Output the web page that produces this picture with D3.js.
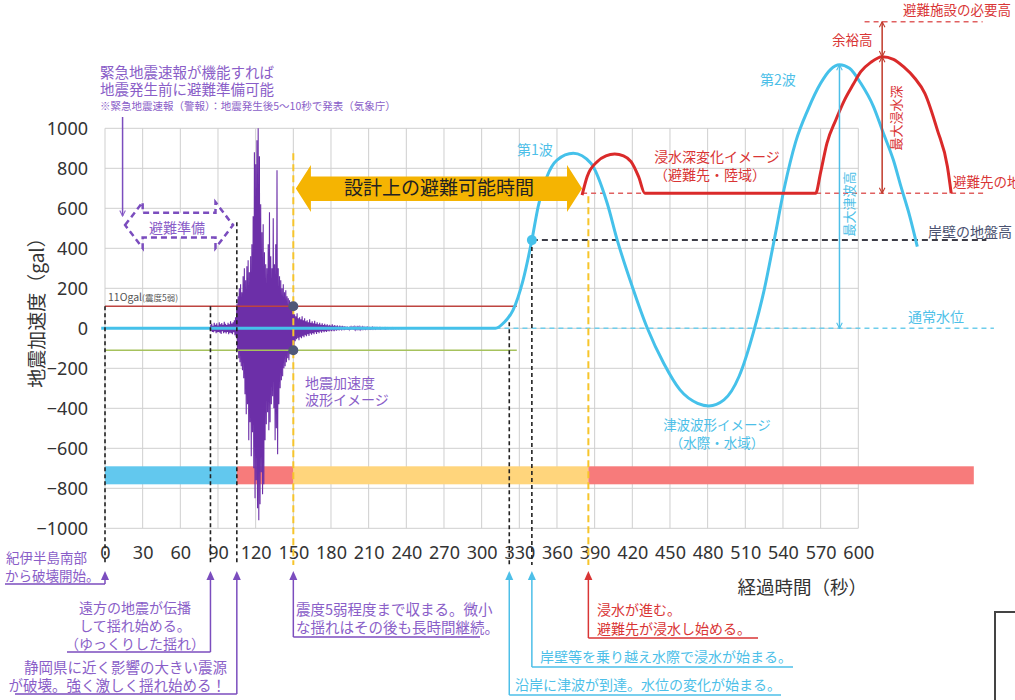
<!DOCTYPE html>
<html>
<head>
<meta charset="utf-8">
<script src="https://cdn.jsdelivr.net/npm/d3@7"></script>
<style>
  body { margin: 0; background: #fff; }
  svg { display: block; }
  text { font-family: "Noto Sans CJK JP", "Noto Sans", sans-serif; }
</style>
</head>
<body>
<div id="chart"></div>
<script>
// ---- data ----
const xTicks = d3.range(0, 601, 30);
const yTicks = d3.range(-1000, 1001, 200);

// seismic acceleration envelope, one sample per second from seismicStart
const seismicStart = 84;
const seismicUpper = [15,22,12,28,18,25,14,30,20,26,18,32,22,16,28,20,35,24,30,40,55,
  120,160,200,220,180,260,300,240,310,340,280,360,420,560,880,820,940,1000,860,620,480,520,380,320,300,420,580,360,300,550,320,420,790,300,260,240,200,220,180,190,160,150,140,130,120,90,
  70,60,75,50,55,45,60,40,50,35,40,30,45,28,35,25,38,22,30,20,28,18,25,16,22,15,20,14,18,12,
  20,12,16,10,15,9,14,8,12,8,10,7,9,6,8,6,9,5,7,5,6,5,7,4,6,4,5,4,5,3,
  4,3,5,3,4,3,3,2,4,2,3,2,3,2,3,2,2,2,3,2,2,2,2,1,2,2,1,2,1,1];
const seismicLower = [-12,-18,-20,-15,-25,-20,-18,-22,-28,-15,-24,-20,-26,-18,-30,-22,-25,-30,-20,-35,-45,
  -110,-150,-170,-190,-210,-250,-330,-430,-380,-560,-470,-640,-520,-700,-850,-760,-900,-960,-880,-720,-830,-780,-560,-480,-420,-510,-470,-380,-340,-400,-560,-500,-630,-380,-300,-260,-240,-200,-190,-170,-150,-160,-130,-120,-110,-90,
  -65,-55,-50,-60,-45,-50,-40,-45,-35,-40,-30,-38,-26,-32,-24,-30,-20,-28,-18,-25,-16,-22,-15,-20,-14,-18,-12,-16,-11,-15,
  -10,-14,-9,-12,-8,-11,-7,-10,-6,-9,-7,-6,-8,-5,-7,-5,-6,-4,-6,-4,-5,-4,-6,-3,-5,-3,-4,-3,-4,-3,
  -3,-3,-4,-2,-3,-2,-3,-2,-3,-2,-2,-2,-3,-2,-2,-1,-2,-2,-2,-1,-2,-1,-2,-1,-1,-2,-1,-1,-1,-1];

// tsunami water level image (blue)
const tsunamiTime  = [-3, 300, 311, 318, 325, 333, 340, 345, 352, 360, 373, 387, 400, 408, 420, 432, 445, 458, 472, 481, 493, 505, 517, 525, 533, 541, 550, 560, 570, 578, 585, 593, 602, 612, 620, 628, 634, 641, 647];
const tsunamiLevel = [0, 0, 0, 30, 91, 241, 441, 608, 758, 841, 875, 825, 625, 441, 208, 0, -175, -308, -375, -388, -358, -241, -8, 191, 441, 700, 930, 1095, 1225, 1295, 1318, 1300, 1225, 1110, 975, 840, 708, 560, 408];

// inundation depth at the evacuation site (red)
const floodTime  = [380, 384, 392, 399, 406, 413, 419, 425, 430, 566, 570, 575, 582, 589, 596, 602, 610, 619, 628, 636, 645, 653, 663, 671, 674];
const floodDepth = [666, 758, 833, 862, 871, 862, 833, 758, 675, 675, 780, 925, 1040, 1141, 1220, 1283, 1330, 1358, 1345, 1308, 1250, 1175, 991, 808, 675];

// reference levels
const shindo5Level = 110;
const evacGround = 675;
const quayGround = 441;
const requiredHeight = 1533;
const maxTsunami = 1318, maxTsunamiTime = 585;
const maxFlood = 1358, maxFloodTime = 619;

// phase bar along the bottom
const phaseStart = [0, 105, 150, 385];
const phaseEnd   = [105, 150, 385, 692];
const phaseColor = ["#62C8EE", "#F77B7B", "#FFD57C", "#F77B7B"];

// ---- drawing ----
const W = 1015, H = 700;
const svg = d3.select("#chart").append("svg").attr("width", W).attr("height", H);
svg.append("rect").attr("width", W).attr("height", H).attr("fill", "#fff");

const x = d3.scaleLinear().domain([0, 600]).range([105, 858.3]);
const y = d3.scaleLinear().domain([-1000, 1000]).range([528.3, 128.3]);

const PURPLE = "#8A5EC8", CYAN = "#4DBFE8", RED = "#D93535";

// markers
const defs = svg.append("defs");
function chevron(id, color) {
  defs.append("marker").attr("id", id).attr("viewBox", "0 0 10 10")
    .attr("refX", 9).attr("refY", 5).attr("markerWidth", 7).attr("markerHeight", 7)
    .attr("orient", "auto-start-reverse").attr("markerUnits", "userSpaceOnUse")
    .append("path").attr("d", "M1,1 L9,5 L1,9").attr("fill", "none")
    .attr("stroke", color).attr("stroke-width", 1.5);
}
chevron("vPurple", PURPLE);
chevron("vCyan", CYAN);
chevron("vRed", "#C0392B");

// grid
const grid = svg.append("g").attr("stroke", "#cfcfcf").attr("stroke-width", 1);
grid.selectAll(".gx").data(xTicks).join("line")
  .attr("x1", d => x(d)).attr("x2", d => x(d)).attr("y1", y(1000)).attr("y2", y(-1000));
grid.selectAll(".gy").data(yTicks).join("line")
  .attr("x1", x(0)).attr("x2", x(600)).attr("y1", d => y(d)).attr("y2", d => y(d));

// axes
const yAxis = svg.append("g").attr("transform", `translate(${x(0)},0)`)
  .call(d3.axisLeft(y).tickValues(yTicks).tickFormat(d3.format("d")).tickSize(0).tickPadding(17));
const xAxis = svg.append("g").attr("transform", `translate(0,${y(-1000)})`)
  .call(d3.axisBottom(x).tickValues(xTicks).tickFormat(d3.format("d")).tickSize(0).tickPadding(18));
[yAxis, xAxis].forEach(a => {
  a.select(".domain").remove();
  a.selectAll("text").attr("font-size", 18).attr("fill", "#333")
    .style("font-family", "'Noto Sans', sans-serif");
});

svg.append("text").attr("transform", `translate(35,308) rotate(-90)`)
  .attr("text-anchor", "middle").attr("dominant-baseline", "central")
  .attr("font-size", 19).attr("fill", "#333").text("地震加速度（gal）");
svg.append("text").attr("x", 867).attr("y", 594).attr("text-anchor", "end")
  .attr("font-size", 18.5).attr("fill", "#333").text("経過時間（秒）");

// phase bars
svg.append("g").selectAll("rect").data(phaseStart).join("rect")
  .attr("x", (d, i) => x(d)).attr("width", (d, i) => x(phaseEnd[i]) - x(d))
  .attr("y", y(-690)).attr("height", y(-780) - y(-690))
  .attr("fill", (d, i) => phaseColor[i]);

// seismic waveform
const wavePts = [];
seismicUpper.forEach((u, i) => {
  const t = seismicStart + i;
  wavePts.push([t, u], [t + 0.5, seismicLower[i]]);
});
svg.append("path").datum(wavePts)
  .attr("d", d3.line().x(d => x(d[0])).y(d => y(d[1])))
  .attr("fill", "none").attr("stroke", "#6C2FA8").attr("stroke-width", 1.1);

// shindo 5- thresholds
svg.append("line").attr("x1", x(0)).attr("x2", x(328))
  .attr("y1", y(shindo5Level)).attr("y2", y(shindo5Level))
  .attr("stroke", "#BE4440").attr("stroke-width", 1.6);
svg.append("line").attr("x1", x(0)).attr("x2", x(328))
  .attr("y1", y(-shindo5Level)).attr("y2", y(-shindo5Level))
  .attr("stroke", "#A6C25C").attr("stroke-width", 1.6);
svg.append("text").attr("x", 108).attr("y", 301).attr("fill", "#555")
  .attr("font-size", 10.5).text("11Ogal")
  .append("tspan").attr("font-size", 8.5).text("(震度5弱)");

// normal water level (dashed) and quay / site reference lines
function hline(v, t0, t1, color, w, dash) {
  svg.append("line").attr("x1", x(t0)).attr("x2", x(t1)).attr("y1", y(v)).attr("y2", y(v))
    .attr("stroke", color).attr("stroke-width", w).attr("stroke-dasharray", dash);
}
hline(0, 311, 708, "#6FCDEB", 1.5, "5,4");
hline(quayGround, 340, 702, "#3c3c46", 2, "6,4");
hline(evacGround, 380, 702, "#E06060", 1.5, "5,4");
hline(requiredHeight, 605, 699, "#E06060", 1.5, "5,4");

// tsunami line
const tsuPts = tsunamiTime.map((t, i) => [t, tsunamiLevel[i]]);
svg.append("path").datum(tsuPts)
  .attr("d", d3.line().x(d => x(d[0])).y(d => y(d[1])).curve(d3.curveMonotoneX))
  .attr("fill", "none").attr("stroke", "#45C1EA").attr("stroke-width", 3);

// flood depth line
const floodPts = floodTime.map((t, i) => [t, floodDepth[i]]);
svg.append("path").datum(floodPts)
  .attr("d", d3.line().x(d => x(d[0])).y(d => y(d[1])).curve(d3.curveMonotoneX))
  .attr("fill", "none").attr("stroke", "#DA2A2A").attr("stroke-width", 3);

// vertical dashed guides
function vline(t, v0, yBottom, color, w, dash) {
  svg.append("line").attr("x1", x(t)).attr("x2", x(t)).attr("y1", y(v0)).attr("y2", yBottom)
    .attr("stroke", color).attr("stroke-width", w).attr("stroke-dasharray", dash);
}
vline(0, shindo5Level, 565, "#222", 1.6, "4,3");
vline(84, shindo5Level, 565, "#222", 1.6, "4,3");
vline(105, 530, 565, "#222", 1.6, "4,3");
vline(322, 30, 565, "#222", 1.6, "4,3");
vline(340, quayGround, 565, "#222", 1.6, "4,3");
vline(150, 875, 565, "#F7C52B", 2, "7,4");
vline(385, 660, 565, "#F7C52B", 2, "7,4");

// markers on the curves
svg.append("circle").attr("cx", x(150)).attr("cy", y(shindo5Level)).attr("r", 5).attr("fill", "#4F5878");
svg.append("circle").attr("cx", x(150)).attr("cy", y(-shindo5Level)).attr("r", 5).attr("fill", "#4F5878");
svg.append("circle").attr("cx", x(340)).attr("cy", y(quayGround)).attr("r", 5).attr("fill", "#45C1EA");

// gold double arrow: design evacuation time
const ga = [[152, 699], [164, 817], [164, 759], [368, 759], [368, 817], [380, 699],
            [368, 581], [368, 636], [164, 636], [164, 581]];
svg.append("polygon").attr("points", ga.map(p => [x(p[0]), y(p[1])].join(",")).join(" "))
  .attr("fill", "#F5B402");
svg.append("text").attr("x", x(266)).attr("y", 195).attr("text-anchor", "middle")
  .attr("font-size", 19).attr("fill", "#222").text("設計上の避難可能時間");

// hollow dashed double arrow: evacuation preparation
const pa = [[16, 516], [30, 631], [30, 578], [88, 578], [88, 631], [102, 516],
            [88, 401], [88, 454], [30, 454], [30, 401]];
svg.append("polygon").attr("points", pa.map(p => [x(p[0]), y(p[1])].join(",")).join(" "))
  .attr("fill", "#fff").attr("stroke", "#7B4DBE").attr("stroke-width", 2.5)
  .attr("stroke-dasharray", "6,4").attr("stroke-linejoin", "miter");
svg.append("text").attr("x", 177).attr("y", 233).attr("text-anchor", "middle")
  .attr("font-size", 14).attr("fill", PURPLE).text("避難準備");

// early warning arrow
svg.append("line").attr("x1", x(14)).attr("x2", x(14)).attr("y1", 117).attr("y2", 216)
  .attr("stroke", "#7B4DBE").attr("stroke-width", 1.5).attr("marker-end", "url(#vPurple)");

// max tsunami / flood arrows
svg.append("line").attr("x1", x(maxTsunamiTime)).attr("x2", x(maxTsunamiTime))
  .attr("y1", y(maxTsunami)).attr("y2", y(0))
  .attr("stroke", CYAN).attr("stroke-width", 1.5)
  .attr("marker-start", "url(#vCyan)").attr("marker-end", "url(#vCyan)");
svg.append("line").attr("x1", x(maxFloodTime)).attr("x2", x(maxFloodTime))
  .attr("y1", y(maxFlood)).attr("y2", y(evacGround))
  .attr("stroke", "#C0392B").attr("stroke-width", 1.5)
  .attr("marker-start", "url(#vRed)").attr("marker-end", "url(#vRed)");
svg.append("line").attr("x1", x(maxFloodTime)).attr("x2", x(maxFloodTime))
  .attr("y1", y(requiredHeight)).attr("y2", y(maxFlood))
  .attr("stroke", "#C0392B").attr("stroke-width", 1.5)
  .attr("marker-start", "url(#vRed)").attr("marker-end", "url(#vRed)");

// labels in plot
function label(xp, yp, s, color, size, anchor) {
  return svg.append("text").attr("x", xp).attr("y", yp).attr("fill", color)
    .attr("font-size", size).attr("text-anchor", anchor || "start").text(s);
}
label(100, 78, "緊急地震速報が機能すれば", PURPLE, 14.5);
label(100, 95, "地震発生前に避難準備可能", PURPLE, 14.5);
label(100, 110, "※緊急地震速報（警報）：地震発生後5～10秒で発表（気象庁）", PURPLE, 10.5);
label(305, 388, "地震加速度", PURPLE, 14);
label(305, 405, "波形イメージ", PURPLE, 14);
label(517, 155, "第1波", CYAN, 14);
label(760, 85, "第2波", CYAN, 14);
label(717, 162, "浸水深変化イメージ", RED, 14, "middle");
label(710, 180, "（避難先・陸域）", RED, 14, "middle");
label(717, 430, "津波波形イメージ", CYAN, 13.5, "middle");
label(717, 448, "（水際・水域）", CYAN, 13.5, "middle");
label(903, 15, "避難施設の必要高", RED, 13.5);
label(832, 45, "余裕高", RED, 13.5);
label(953, 187, "避難先の地盤高", RED, 13.5);
label(928, 237, "岸壁の地盤高", "#4A5270", 14);
label(908, 322, "通常水位", CYAN, 14);
svg.append("text").attr("transform", "translate(895,118) rotate(-90)")
  .attr("text-anchor", "middle").attr("dominant-baseline", "central")
  .attr("font-size", 13).attr("fill", RED).text("最大浸水深");
svg.append("text").attr("transform", "translate(848,204) rotate(-90)")
  .attr("text-anchor", "middle").attr("dominant-baseline", "central")
  .attr("font-size", 13).attr("fill", CYAN).text("最大津波高");

// bottom call-outs
function callout(t, color, uy, ux0, ux1) {
  const xp = x(t);
  svg.append("polyline").attr("points", `${ux0},${uy} ${ux1},${uy}`)
    .attr("stroke", color).attr("stroke-width", 1.5).attr("fill", "none");
  svg.append("line").attr("x1", xp).attr("x2", xp).attr("y1", uy).attr("y2", 578)
    .attr("stroke", color).attr("stroke-width", 1.5);
  svg.append("path").attr("d", `M${xp},571 L${xp - 4},580 L${xp + 4},580 Z`).attr("fill", color);
}
callout(0, "#7B4DBE", 584, 5, x(0));
label(6, 563, "紀伊半島南部", PURPLE, 13.5);
label(5, 581, "から破壊開始。", PURPLE, 13.5);

callout(84, "#7B4DBE", 652, 67, x(84));
label(135, 613, "遠方の地震が伝播", PURPLE, 14, "middle");
label(135, 631, "して揺れ始める。", PURPLE, 14, "middle");
label(135, 649, "（ゆっくりした揺れ）", PURPLE, 14, "middle");

callout(105, "#7B4DBE", 694, 15, x(105));
label(227, 673, "静岡県に近く影響の大きい震源", PURPLE, 14.5, "end");
label(226, 691, "が破壊。強く激しく揺れ始める！", PURPLE, 14.5, "end");

callout(150, "#7B4DBE", 637, x(150), 480);
label(296, 615, "震度5弱程度まで収まる。微小", PURPLE, 14.5);
label(296, 633, "な揺れはその後も長時間継続。", PURPLE, 14.5);

callout(385, RED, 638, x(385), 758);
label(597, 615, "浸水が進む。", RED, 14);
label(597, 634, "避難先が浸水し始める。", RED, 14);

callout(340, CYAN, 667, x(340), 793);
label(540, 662, "岸壁等を乗り越え水際で浸水が始まる。", CYAN, 14);

callout(322, CYAN, 695, x(322), 781);
label(515, 690, "沿岸に津波が到達。水位の変化が始まる。", CYAN, 14);

// edge of a neighbouring figure
svg.append("rect").attr("x", 995).attr("y", 612).attr("width", 40).attr("height", 120)
  .attr("fill", "none").attr("stroke", "#444").attr("stroke-width", 2);
</script>
</body>
</html>
